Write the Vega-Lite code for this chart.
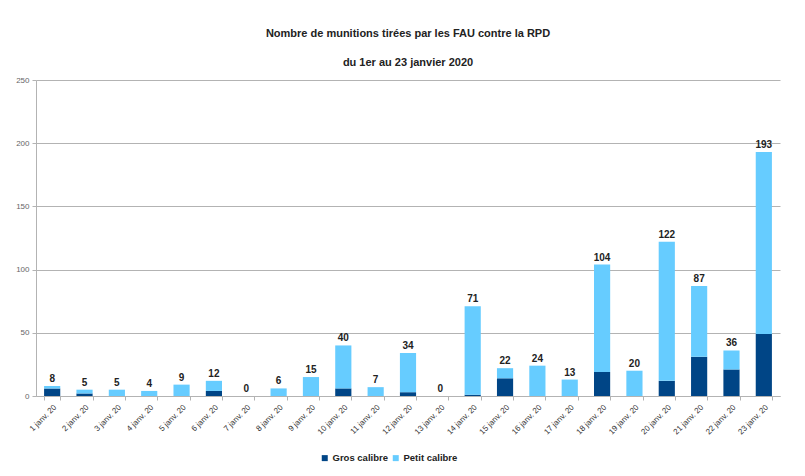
{
  "$schema": "https://vega.github.io/schema/vega-lite/v6.json",
  "width": 744,
  "height": 316,
  "autosize": {"type": "none"},
  "padding": {"left": 36, "right": 25, "top": 80, "bottom": 80},
  "background": "white",
  "title": {
    "text": "Nombre de munitions tirées par les FAU contre la RPD",
    "subtitle": "du 1er au 23 janvier 2020",
    "font": "Liberation Sans",
    "fontSize": 11,
    "fontWeight": "bold",
    "color": "#222222",
    "subtitleFont": "Liberation Sans",
    "subtitleFontSize": 11,
    "subtitleFontWeight": "bold",
    "subtitleColor": "#222222",
    "subtitlePadding": 18,
    "offset": 8,
    "anchor": "middle"
  },
  "data": {
    "values": [
      {"date": "1 janv. 20", "type": "Gros calibre", "n": 6},
      {"date": "1 janv. 20", "type": "Petit calibre", "n": 2},
      {"date": "2 janv. 20", "type": "Gros calibre", "n": 2},
      {"date": "2 janv. 20", "type": "Petit calibre", "n": 3},
      {"date": "3 janv. 20", "type": "Gros calibre", "n": 0},
      {"date": "3 janv. 20", "type": "Petit calibre", "n": 5},
      {"date": "4 janv. 20", "type": "Gros calibre", "n": 0},
      {"date": "4 janv. 20", "type": "Petit calibre", "n": 4},
      {"date": "5 janv. 20", "type": "Gros calibre", "n": 0},
      {"date": "5 janv. 20", "type": "Petit calibre", "n": 9},
      {"date": "6 janv. 20", "type": "Gros calibre", "n": 4},
      {"date": "6 janv. 20", "type": "Petit calibre", "n": 8},
      {"date": "7 janv. 20", "type": "Gros calibre", "n": 0},
      {"date": "7 janv. 20", "type": "Petit calibre", "n": 0},
      {"date": "8 janv. 20", "type": "Gros calibre", "n": 0},
      {"date": "8 janv. 20", "type": "Petit calibre", "n": 6},
      {"date": "9 janv. 20", "type": "Gros calibre", "n": 0},
      {"date": "9 janv. 20", "type": "Petit calibre", "n": 15},
      {"date": "10 janv. 20", "type": "Gros calibre", "n": 6},
      {"date": "10 janv. 20", "type": "Petit calibre", "n": 34},
      {"date": "11 janv. 20", "type": "Gros calibre", "n": 0},
      {"date": "11 janv. 20", "type": "Petit calibre", "n": 7},
      {"date": "12 janv. 20", "type": "Gros calibre", "n": 3},
      {"date": "12 janv. 20", "type": "Petit calibre", "n": 31},
      {"date": "13 janv. 20", "type": "Gros calibre", "n": 0},
      {"date": "13 janv. 20", "type": "Petit calibre", "n": 0},
      {"date": "14 janv. 20", "type": "Gros calibre", "n": 1},
      {"date": "14 janv. 20", "type": "Petit calibre", "n": 70},
      {"date": "15 janv. 20", "type": "Gros calibre", "n": 14},
      {"date": "15 janv. 20", "type": "Petit calibre", "n": 8},
      {"date": "16 janv. 20", "type": "Gros calibre", "n": 0},
      {"date": "16 janv. 20", "type": "Petit calibre", "n": 24},
      {"date": "17 janv. 20", "type": "Gros calibre", "n": 0},
      {"date": "17 janv. 20", "type": "Petit calibre", "n": 13},
      {"date": "18 janv. 20", "type": "Gros calibre", "n": 19},
      {"date": "18 janv. 20", "type": "Petit calibre", "n": 85},
      {"date": "19 janv. 20", "type": "Gros calibre", "n": 0},
      {"date": "19 janv. 20", "type": "Petit calibre", "n": 20},
      {"date": "20 janv. 20", "type": "Gros calibre", "n": 12},
      {"date": "20 janv. 20", "type": "Petit calibre", "n": 110},
      {"date": "21 janv. 20", "type": "Gros calibre", "n": 31},
      {"date": "21 janv. 20", "type": "Petit calibre", "n": 56},
      {"date": "22 janv. 20", "type": "Gros calibre", "n": 21},
      {"date": "22 janv. 20", "type": "Petit calibre", "n": 15},
      {"date": "23 janv. 20", "type": "Gros calibre", "n": 49},
      {"date": "23 janv. 20", "type": "Petit calibre", "n": 144}
    ]
  },
  "encoding": {
    "x": {
      "field": "date",
      "type": "ordinal",
      "sort": null,
      "title": null,
      "scale": {"paddingInner": 0.5, "paddingOuter": 0.25},
      "axis": {
        "labelAngle": -45,
        "labelFont": "Liberation Sans",
        "labelFontSize": 8,
        "labelColor": "#333333",
        "domainColor": "#b3b3b3",
        "tickColor": "#b3b3b3",
        "tickSize": 4,
        "tickBand": "extent",
        "labelPadding": 3
      }
    }
  },
  "layer": [
    {
      "mark": {"type": "bar"},
      "encoding": {
        "y": {
          "field": "n",
          "type": "quantitative",
          "aggregate": "sum",
          "stack": "zero",
          "title": null,
          "scale": {"domain": [0, 250], "nice": false},
          "axis": {
            "values": [0, 50, 100, 150, 200, 250],
            "labelFont": "Liberation Sans",
            "labelFontSize": 8,
            "labelColor": "#666666",
            "gridColor": "#b3b3b3",
            "domainColor": "#b3b3b3",
            "tickColor": "#b3b3b3",
            "tickSize": 4,
            "labelPadding": 3
          }
        },
        "color": {
          "field": "type",
          "type": "nominal",
          "title": null,
          "scale": {
            "domain": ["Gros calibre", "Petit calibre"],
            "range": ["#004586", "#66ccff"]
          },
          "legend": {
            "orient": "none",
            "legendX": 284,
            "legendY": 373,
            "direction": "horizontal",
            "symbolType": "square",
            "symbolSize": 36,
            "symbolStrokeWidth": 0,
            "labelOffset": 3,
            "labelFont": "Liberation Sans",
            "labelFontSize": 9.5,
            "labelFontWeight": "bold",
            "labelColor": "#222222",
            "columnPadding": 3
          }
        },
        "order": {"field": "type", "sort": "ascending"}
      }
    },
    {
      "mark": {
        "type": "text",
        "dy": -7,
        "font": "Liberation Sans",
        "fontSize": 10,
        "fontWeight": "bold",
        "color": "#222222"
      },
      "encoding": {
        "y": {"field": "n", "type": "quantitative", "aggregate": "sum"},
        "text": {"field": "n", "type": "quantitative", "aggregate": "sum"}
      }
    }
  ],
  "config": {
    "view": {"stroke": null}
  }
}
